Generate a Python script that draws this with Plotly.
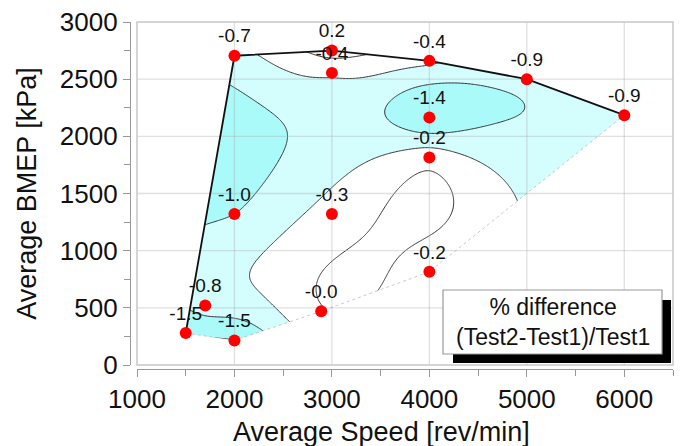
import numpy as np
import plotly.graph_objects as go

# ---- data ----
speed = [1500, 1700, 2000, 2000, 2000, 2890, 3000, 3000, 3000, 4000, 4000, 4000, 4000, 5000, 6000]
bmep = [280, 520, 215, 1320, 2705, 470, 2750, 2555, 1320, 2660, 2165, 1815, 815, 2500, 2185]
pct = [-1.5, -0.8, -1.5, -1.0, -0.7, -0.04, 0.2, -0.4, -0.3, -0.4, -1.4, -0.2, -0.2, -0.9, -0.9]
labels = ["-1.5", "-0.8", "-1.5", "-1.0", "-0.7", "-0.0", "0.2", "-0.4", "-0.3",
          "-0.4", "-1.4", "-0.2", "-0.2", "-0.9", "-0.9"]
x_ticks = [1000, 2000, 3000, 4000, 5000, 6000]
y_ticks = [0, 500, 1000, 1500, 2000, 2500, 3000]
levels = [-1.5, -1.0, -0.5, 0.0]

FONT = "Liberation Sans, Arial, Helvetica, sans-serif"
DARK = "rgb(170,250,250)"
LIGHT = "rgb(212,253,253)"

xs = np.array(speed, float)
ys = np.array(bmep, float)
zs = np.array(pct, float)

# ---- thin plate spline surface through the measured points ----
SX, SY = 1000.0, 800.0
px, py = xs / SX, ys / SY


def tps_kernel(r):
    out = np.zeros_like(r)
    m = r > 0
    out[m] = r[m] ** 2 * np.log(r[m])
    return out


n = len(xs)
K = tps_kernel(np.hypot(px[:, None] - px[None, :], py[:, None] - py[None, :]))
P = np.column_stack([np.ones(n), px, py])
A = np.zeros((n + 3, n + 3))
A[:n, :n] = K
A[:n, n:] = P
A[n:, :n] = P.T
b = np.concatenate([zs, np.zeros(3)])
coef = np.linalg.solve(A, b)
w, a = coef[:n], coef[n:]

gx = np.linspace(1400, 6100, 320)
gy = np.linspace(150, 2820, 300)
GX, GY = np.meshgrid(gx / SX, gy / SY)
R = np.hypot(GX[..., None] - px, GY[..., None] - py)
Z = tps_kernel(R) @ w + a[0] + a[1] * GX + a[2] * GY

# ---- convex hull of the test points ----
pts = sorted(zip(speed, bmep))


def cross(o, p, q):
    return (p[0] - o[0]) * (q[1] - o[1]) - (p[1] - o[1]) * (q[0] - o[0])


lower, upper = [], []
for p in pts:
    while len(lower) >= 2 and cross(lower[-2], lower[-1], p) <= 0:
        lower.pop()
    lower.append(p)
for p in reversed(pts):
    while len(upper) >= 2 and cross(upper[-2], upper[-1], p) <= 0:
        upper.pop()
    upper.append(p)
hull = lower[:-1] + upper[:-1]  # counter-clockwise
upper_chain = upper[::-1]  # left -> right along the top

fig = go.Figure()
fig.add_trace(go.Contour(
    x=gx, y=gy, z=Z, zmin=-2.0, zmax=0.5, autocontour=False,
    contours=dict(start=levels[0], end=levels[-1], size=0.5, coloring="fill", showlines=True),
    colorscale=[[0, DARK], [0.4, DARK], [0.4, LIGHT], [0.6, LIGHT], [0.6, "white"], [1, "white"]],
    line=dict(color="#333333", width=1, smoothing=1.0),
    showscale=False, hoverinfo="skip"))

# white mask outside the hull (union of outer half planes of every edge)
hx = np.array([p[0] for p in hull], float) / SX
hy = np.array([p[1] for p in hull], float) / SY
m = len(hull)
for i in range(m):
    ax_, ay_ = hx[i], hy[i]
    bx_, by_ = hx[(i + 1) % m], hy[(i + 1) % m]
    dx, dy = bx_ - ax_, by_ - ay_
    L = np.hypot(dx, dy)
    dx, dy = dx / L, dy / L
    nx_, ny_ = dy, -dx  # outward normal for ccw polygon
    T, D = 20.0, 20.0
    qx = [ax_ - T * dx, bx_ + T * dx, bx_ + T * dx + D * nx_, ax_ - T * dx + D * nx_]
    qy = [ay_ - T * dy, by_ + T * dy, by_ + T * dy + D * ny_, ay_ - T * dy + D * ny_]
    fig.add_trace(go.Scatter(
        x=[v * SX for v in qx], y=[v * SY for v in qy], mode="lines", fill="toself",
        fillcolor="white", line=dict(width=0, color="white"), hoverinfo="skip", showlegend=False))

# grid lines (drawn over the fill, as in the reference)
gxl, gyl = [], []
for t in x_ticks[1:]:
    gxl += [t, t, None]
    gyl += [0, 3000, None]
for t in y_ticks[1:-1]:
    gxl += [1000, 6500, None]
    gyl += [t, t, None]
fig.add_trace(go.Scatter(x=gxl, y=gyl, mode="lines", line=dict(color="rgba(170,170,170,0.36)", width=1.3),
                         hoverinfo="skip", showlegend=False))

# lower hull edge (faint dotted)
fig.add_trace(go.Scatter(x=[p[0] for p in lower], y=[p[1] for p in lower], mode="lines",
                         line=dict(color="rgba(160,160,160,0.7)", width=0.8, dash="dot"),
                         hoverinfo="skip", showlegend=False))
# full-load boundary line
fig.add_trace(go.Scatter(x=[p[0] for p in upper_chain], y=[p[1] for p in upper_chain], mode="lines",
                         line=dict(color="#111111", width=1.8), hoverinfo="skip", showlegend=False))
# points and labels
fig.add_trace(go.Scatter(x=speed, y=bmep, mode="markers+text", text=labels, textposition="top center",
                         textfont=dict(family=FONT, size=19, color="#111111"),
                         marker=dict(color="#ff0000", size=12, line=dict(width=0)),
                         hoverinfo="skip", showlegend=False, cliponaxis=False))

# legend-like box with shadow
W, H = 681, 446
ml, mr, mt, mb = 130, 8, 22, 77
pw, ph = W - ml - mr, H - mt - mb


def pxx(x):
    return (x - ml) / pw


def pyy(y):
    return (H - mb - y) / ph


fig.add_shape(type="rect", xref="paper", yref="paper", x0=pxx(453), x1=pxx(671), y0=pyy(363), y1=pyy(300),
              fillcolor="black", line=dict(width=0), layer="above")
fig.add_shape(type="rect", xref="paper", yref="paper", x0=pxx(443), x1=pxx(662), y0=pyy(354), y1=pyy(290),
              fillcolor="white", line=dict(color="#999999", width=1.2), layer="above")
fig.add_annotation(xref="paper", yref="paper", x=pxx(552.5), y=pyy(322), text="% difference<br>(Test2-Test1)/Test1",
                   showarrow=False, font=dict(family=FONT, size=23, color="#111111"), align="center",
                   xanchor="center", yanchor="middle")
# x axis title
fig.add_annotation(xref="paper", yref="paper", x=pxx(381), y=pyy(432), text="Average Speed [rev/min]",
                   showarrow=False, font=dict(family=FONT, size=27, color="#111111"),
                   xanchor="center", yanchor="middle")
# plot frame
fig.add_shape(type="rect", xref="x domain", yref="y domain", x0=0, x1=1, y0=0, y1=1,
              line=dict(color="#c8c8c8", width=1.5), layer="above")

fig.update_layout(
    width=W, height=H, margin=dict(l=ml, r=mr, t=mt, b=mb, autoexpand=False),
    paper_bgcolor="white", plot_bgcolor="white", showlegend=False,
    font=dict(family=FONT, color="#111111"),
    xaxis=dict(domain=[7 / pw, 1], range=[1000, 6500], anchor="free", position=0, automargin=False,
               showgrid=False, zeroline=False, showline=True, linecolor="#999999", linewidth=1.3,
               ticks="outside", ticklen=7, tickcolor="#999999", tickwidth=1.3,
               tickvals=x_ticks, tickfont=dict(family=FONT, size=26, color="#111111"),
               minor=dict(ticks="outside", ticklen=6, tickcolor="#999999", dtick=500, tick0=0, showgrid=False)),
    yaxis=dict(domain=[4 / ph, 1], range=[0, 3000], anchor="free", position=0, automargin=False,
               showgrid=False, zeroline=False, showline=True, linecolor="#999999", linewidth=1.3,
               ticks="outside", ticklen=7, tickcolor="#999999", tickwidth=1.3,
               tickvals=y_ticks, tickfont=dict(family=FONT, size=26, color="#111111"),
               minor=dict(ticks="outside", ticklen=6, tickcolor="#999999", dtick=250, tick0=0, showgrid=False),
               title=dict(text="Average BMEP [kPa]", font=dict(family=FONT, size=27), standoff=14)),
)
fig.write_html("out.html")
